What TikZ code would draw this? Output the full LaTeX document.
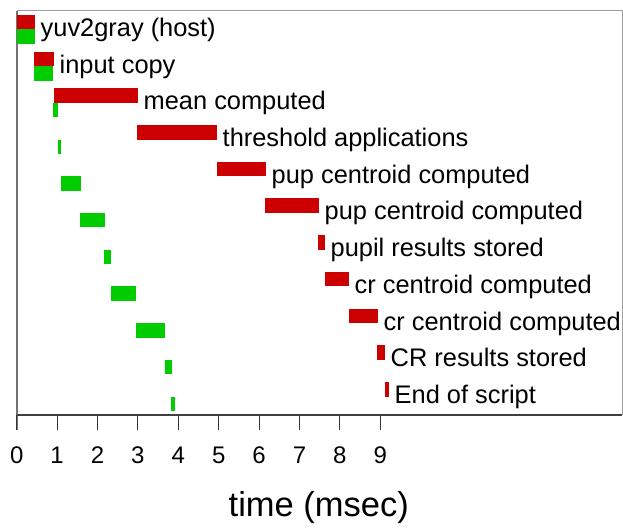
\documentclass[tikz,border=0pt]{standalone}
\usepackage{fontspec}
\setmainfont{Liberation Sans}
\definecolor{barred}{RGB}{204,0,0}
\definecolor{bargreen}{RGB}{0,204,0}
\begin{document}
\begin{tikzpicture}[x=1pt,y=-1pt,
  lab/.style={anchor=base west, inner sep=0pt, font=\fontsize{25.4}{30}\selectfont},
  ticklab/.style={anchor=base, inner sep=0pt, font=\fontsize{24}{28}\selectfont},
  axtitle/.style={anchor=base, inner sep=0pt, font=\fontsize{34.5}{40}\selectfont}]
\useasboundingbox (0,0) rectangle (623,529);
% frame
\draw[gray!75, line width=1pt] (16.7,11) -- (622.3,11) -- (622.3,415);
\draw[black!55, line width=1.6pt] (16.7,11) -- (16.7,430);
\draw[black!75, line width=1.4pt] (16.7,415) -- (622.3,415);
% ticks
\foreach \i in {0,...,9}{
  \draw[black!80, line width=1pt] ({16.7+40.4*\i},415) -- ({16.7+40.4*\i},430);
  \node[ticklab] (t\i) at ({16.7+40.4*\i},463.3) {\i};
}
\node[axtitle] (title) at (318.8,516.7) {time (msec)};
% bars
\foreach \rs/\re/\gs/\ge/\k/\txt in {
  16.7/35/16.7/35/0/yuv2gray (host),
  34/54/34/53/1/input copy,
  54/138/53/58/2/mean computed,
  137/217/58/61/3/threshold applications,
  217/266/61/81/4/pup centroid computed,
  265/319/80/105/5/pup centroid computed,
  318/325/104/111/6/pupil results stored,
  325/349/111/136/7/cr centroid computed,
  349/378/136/165/8/cr centroid computed,
  377/385/165/172/9/CR results stored,
  384.7/389/171/175/10/End of script}{
  \pgfmathsetmacro{\top}{15+36.7*\k}
  \fill[barred] (\rs,\top) rectangle (\re,\top+14.5);
  \fill[bargreen] (\gs,\top+14.5) rectangle (\ge,\top+29);
  \node[lab] (l\k) at (\re+5.5,\top+21.5) {\txt};
}
\end{tikzpicture}
\end{document}
